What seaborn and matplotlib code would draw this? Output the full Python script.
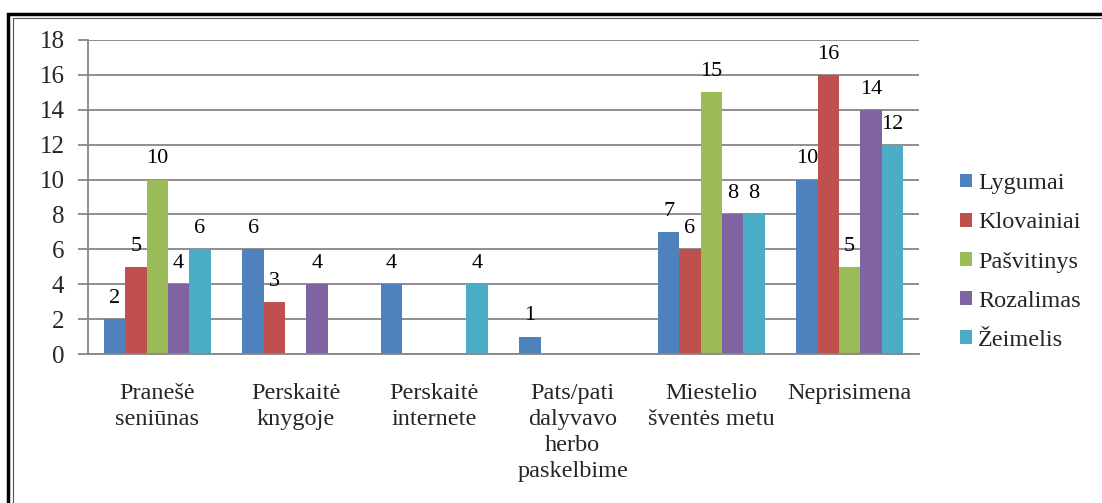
import pandas as pd
import matplotlib.pyplot as plt
import seaborn as sns
from matplotlib.patches import Rectangle

# data
categories = ["Pranešė\nseniūnas", "Perskaitė\nknygoje", "Perskaitė\ninternete",
              "Pats/pati\ndalyvavo\nherbo\npaskelbime", "Miestelio\nšventės metu", "Neprisimena"]
series = ["Lygumai", "Klovainiai", "Pašvitinys", "Rozalimas", "Žeimelis"]
lygumai = [2, 6, 4, 1, 7, 10]
klovainiai = [5, 3, 0, 0, 6, 16]
pasvitinys = [10, 0, 0, 0, 15, 5]
rozalimas = [4, 4, 0, 0, 8, 14]
zeimelis = [6, 0, 4, 0, 8, 12]
y_ticks = list(range(0, 19, 2))

colors = ["#4F81BD", "#C0504D", "#9BBB59", "#8064A2", "#4BACC6"]

# long format for seaborn
values = [lygumai, klovainiai, pasvitinys, rozalimas, zeimelis]
rows = []
for name, vals in zip(series, values):
    for cat, v in zip(categories, vals):
        rows.append({"Category": cat, "Series": name, "Value": v})
df = pd.DataFrame(rows)

sns.set_style("white")
plt.rcParams['font.family'] = ['Liberation Serif', 'DejaVu Serif']

fig = plt.figure(figsize=(11.02, 5.03), dpi=100)
ax = fig.add_axes([0.0799, 0.2962, 0.754, 0.6243])

sns.barplot(data=df, x="Category", y="Value", hue="Series", order=categories,
            hue_order=series, palette=colors, width=0.77, gap=0, saturation=1,
            linewidth=0, ax=ax)

# value labels, skip zeros
for cont in ax.containers:
    labels = [f"{int(b.get_height())}" if b.get_height() > 0 else "" for b in cont]
    ax.bar_label(cont, labels=labels, padding=8, fontsize=16, color="black")

ax.set_ylim(0, 18)
ax.set_yticks(y_ticks)
ax.set_xlim(-0.5, len(categories) - 0.5)
ax.set_xlabel("")
ax.set_ylabel("")
ax.grid(axis="y", color="#868686", linewidth=1.3)
ax.set_axisbelow(True)

for side in ["top", "right"]:
    ax.spines[side].set_visible(False)
for side in ["left", "bottom"]:
    ax.spines[side].set_color("#868686")
    ax.spines[side].set_linewidth(1.3)

# category tick marks between groups
ax.set_xticks([i - 0.5 for i in range(len(categories) + 1)], minor=True)
ax.set_xticks(range(len(categories)))
ax.set_xticklabels(categories, fontsize=17.5, linespacing=1.3, va="top")
ax.tick_params(axis="x", which="major", length=0, pad=21)
ax.tick_params(axis="x", which="minor", length=8, color="#868686", width=1.3, direction="out")
ax.tick_params(axis="y", length=7, color="#868686", width=1.3, labelsize=18, pad=10,
               direction="out", left=True)

leg = ax.legend(loc="center left", bbox_to_anchor=(0.860, 0.479), bbox_transform=fig.transFigure,
                frameon=False, fontsize=17.5, borderpad=0, handlelength=0.5, handleheight=0.5,
                handletextpad=0.25, labelspacing=0.75)

# double border around the chart
fig.patches.append(Rectangle((8 / 1102, -0.05), 1.1, 1 - 14 / 503 + 0.05,
                             transform=fig.transFigure, fill=False, edgecolor="black",
                             linewidth=2.5))
fig.patches.append(Rectangle((12.5 / 1102, -0.05), 1.1, 1 - 17.5 / 503 + 0.05,
                             transform=fig.transFigure, fill=False, edgecolor="#555555",
                             linewidth=0.8))

fig.savefig("out.png", dpi=100)
